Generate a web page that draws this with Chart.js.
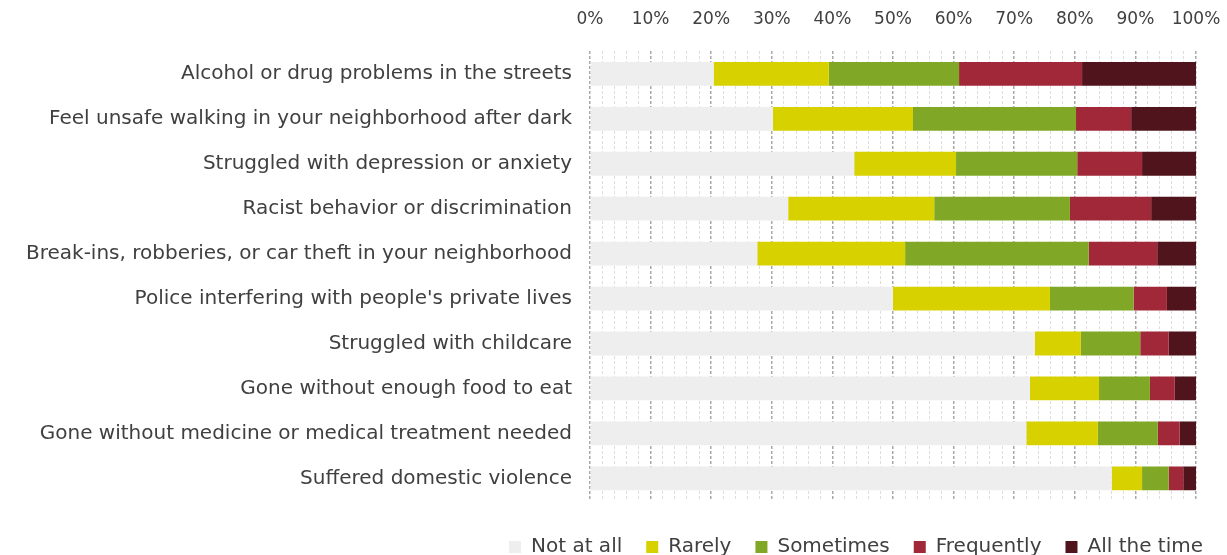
<!DOCTYPE html>
<html>
<head>
<meta charset="utf-8">
<script src="https://cdn.jsdelivr.net/npm/chart.js@4.4.1/dist/chart.umd.min.js"></script>
<style>
  html, body { margin: 0; padding: 0; background: #fff; }
  #wrap { width: 1227px; height: 555px; }
</style>
</head>
<body>
<div id="wrap"><canvas id="chart" width="1227" height="555"></canvas></div>
<script>
// Catégories (de haut en bas)
const categories = [
  'Alcohol or drug problems in the streets',
  'Feel unsafe walking in your neighborhood after dark',
  'Struggled with depression or anxiety',
  'Racist behavior or discrimination',
  'Break-ins, robberies, or car theft in your neighborhood',
  "Police interfering with people's private lives",
  'Struggled with childcare',
  'Gone without enough food to eat',
  'Gone without medicine or medical treatment needed',
  'Suffered domestic violence'
];

// Valeurs (%)
const notAtAll    = [20.4, 30.2, 43.6, 32.7, 27.6, 50.0, 73.4, 72.6, 72.0, 86.1];
const rarely      = [19.0, 23.1, 16.8, 24.1, 24.4, 25.9,  7.6, 11.4, 11.8,  5.0];
const sometimes   = [21.5, 26.9, 20.0, 22.4, 30.3, 13.8,  9.8,  8.4,  9.9,  4.4];
const frequently  = [20.3,  9.1, 10.7, 13.4, 11.3,  5.5,  4.7,  4.1,  3.6,  2.4];
const allTheTime  = [18.8, 10.7,  8.9,  7.4,  6.4,  4.8,  4.5,  3.5,  2.7,  2.1];

const seriesNames = ['Not at all', 'Rarely', 'Sometimes', 'Frequently', 'All the time'];
const seriesColors = ['#eeeeee', '#d7d100', '#80a826', '#a12838', '#50141c'];
const seriesValues = [notAtAll, rarely, sometimes, frequently, allTheTime];

const FONT = '"DejaVu Sans", sans-serif';
const TEXT = '#404040';

const datasets = seriesNames.map((name, i) => ({
  label: name,
  data: seriesValues[i],
  backgroundColor: seriesColors[i],
  borderWidth: 0,
  categoryPercentage: 1,
  barPercentage: 0.53
}));

const isMajor = v => Math.round(v) % 10 === 0;

const ctx = document.getElementById('chart').getContext('2d');
new Chart(ctx, {
  type: 'bar',
  data: { labels: categories, datasets },
  options: {
    indexAxis: 'y',
    responsive: false,
    animation: false,
    layout: { padding: { left: 0, right: 0, top: -13, bottom: -12 } },
    plugins: {
      tooltip: { enabled: false },
      legend: {
        position: 'bottom',
        align: 'end',
        // titre vide : sert juste d'espace entre le graphique et la légende
        title: { display: true, text: ' ', font: { size: 1 }, padding: { top: 11, bottom: 0 } },
        labels: {
          boxWidth: 12,
          boxHeight: 12,
          padding: 24,
          color: TEXT,
          font: { family: FONT, size: 20 }
        }
      }
    },
    scales: {
      x: {
        position: 'top',
        stacked: true,
        min: 0,
        max: 100,
        afterFit: scale => { scale.paddingRight = 31; },
        ticks: {
          stepSize: 2,
          autoSkip: false,
          maxRotation: 0,
          padding: 22,
          color: TEXT,
          font: { family: FONT, size: 17 },
          callback: v => (isMajor(v) ? Math.round(v) + '%' : '')
        },
        grid: {
          drawTicks: false,
          color: c => (isMajor(c.tick.value) ? '#a8a8a8' : '#dddddd'),
          lineWidth: c => (isMajor(c.tick.value) ? 1.5 : 1)
        },
        border: { display: false, dash: [3, 2] }
      },
      y: {
        stacked: true,
        afterFit: scale => { scale.width = 590; },
        ticks: {
          padding: 10,
          color: TEXT,
          font: { family: FONT, size: 20 }
        },
        grid: { display: false },
        border: { display: false }
      }
    }
  }
});
</script>
</body>
</html>
